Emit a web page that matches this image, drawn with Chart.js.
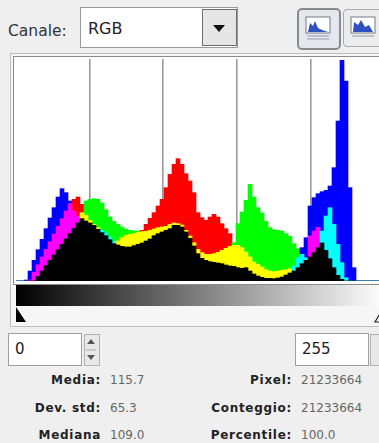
<!DOCTYPE html>
<html><head><meta charset="utf-8">
<script src="https://cdn.jsdelivr.net/npm/chart.js@4/dist/chart.umd.min.js"></script>
<style>
html,body{margin:0;padding:0}
body{width:379px;height:443px;overflow:hidden;background:#efefef;position:relative;font-family:"DejaVu Sans",sans-serif}
.a{position:absolute}
.lbl{font-weight:bold;font-size:12px;letter-spacing:0.7px;color:#222;text-align:right;white-space:nowrap}
.val{font-size:12px;color:#666;white-space:nowrap}
</style></head><body>

<!-- top bar -->
<div class="a" style="left:8px;top:22px;font-size:15.5px;color:#333">Canale:</div>
<div class="a" style="left:80px;top:7px;width:156px;height:39px;border:1px solid #9a9a9a;background:#fff"></div>
<div class="a" style="left:88px;top:19px;font-size:16px;color:#222">RGB</div>
<div class="a" style="left:202px;top:9px;width:33px;height:35px;border:1px solid #6e6e6e;background:#e6e6e6"></div>
<svg class="a" style="left:212px;top:24px" width="14" height="9"><polygon points="1,1 13,1 7,8" fill="#111"/></svg>
<div class="a" style="left:297px;top:8px;width:40px;height:38px;border:2px solid #8a8a8a;border-radius:5px;background:#e4e8ee"></div>
<svg class="a" style="left:305px;top:16px" width="26" height="24"><rect x="1" y="1" width="24" height="16" fill="#fff" stroke="#778" /><polygon points="3,16 5,7 8,10 10,5 13,12 17,14 23,16" fill="#3050c0"/><line x1="2" y1="20" x2="24" y2="20" stroke="#99a"/><line x1="2" y1="23" x2="24" y2="23" stroke="#99a"/></svg>
<div class="a" style="left:343px;top:9px;width:40px;height:36px;border:1px solid #aaa;border-radius:4px;background:#ececec"></div>
<svg class="a" style="left:350px;top:16px" width="26" height="24"><rect x="1" y="1" width="24" height="16" fill="#fff" stroke="#778" /><polygon points="3,16 4,6 8,9 11,4 15,11 19,9 23,16" fill="#3050c0"/><line x1="2" y1="20" x2="24" y2="20" stroke="#99a"/></svg>

<!-- histogram frame -->
<div class="a" style="left:10px;top:53px;width:400px;height:272px;border:1px solid #bdbdbd;background:#f6f6f6"></div>
<div class="a" style="left:13px;top:56px;width:400px;height:227px;border:1px solid #8c8c8c;background:#fff"></div>
<div class="a" style="left:16px;top:59px;width:368px;height:222px"><canvas id="c" width="368" height="222"></canvas></div>
<div class="a" style="left:16px;top:285px;width:368px;height:21px;background:linear-gradient(to right,#000,#fff)"></div>
<svg class="a" style="left:0;top:305px" width="379" height="20"><polygon points="16,2 16,17 26,17" fill="#000"/><polygon points="384,2 375,17 393,17" fill="#fff" stroke="#222" stroke-width="1.2"/></svg>

<!-- inputs -->
<div class="a" style="left:8px;top:333px;width:72px;height:31px;border:1px solid #a0a0a0;background:#fff"></div>
<div class="a" style="left:15px;top:340px;font-size:15px;color:#222">0</div>
<div class="a" style="left:84px;top:334px;width:14px;height:30px;border:1px solid #b0b0b0;background:#e8e8e8"></div>
<svg class="a" style="left:86px;top:337px" width="10" height="26"><polygon points="5,2 1,7 9,7" fill="#555"/><line x1="0" y1="13" x2="10" y2="13" stroke="#aaa"/><polygon points="1,18 9,18 5,23" fill="#555"/></svg>
<div class="a" style="left:295px;top:333px;width:72px;height:31px;border:1px solid #a0a0a0;background:#fff"></div>
<div class="a" style="left:302px;top:340px;font-size:15px;color:#222">255</div>
<div class="a" style="left:370px;top:334px;width:14px;height:30px;border:1px solid #b0b0b0;background:#e8e8e8"></div>

<!-- statistics -->
<div class="a lbl" style="right:278px;top:373px">Media:</div>
<div class="a val" style="left:110px;top:373px">115.7</div>
<div class="a lbl" style="right:278px;top:401px">Dev. std:</div>
<div class="a val" style="left:110px;top:401px">65.3</div>
<div class="a lbl" style="right:278px;top:428px">Mediana</div>
<div class="a val" style="left:110px;top:428px">109.0</div>
<div class="a lbl" style="right:87px;top:373px">Pixel:</div>
<div class="a val" style="left:301px;top:373px">21233664</div>
<div class="a lbl" style="right:87px;top:401px">Conteggio:</div>
<div class="a val" style="left:301px;top:401px">21233664</div>
<div class="a lbl" style="right:87px;top:428px">Percentile:</div>
<div class="a val" style="left:301px;top:428px">100.0</div>

<script>
// channel histograms, 92 bins across intensity 0..255 (arbitrary count units)
const red = [0,0,0,3,26,49,72,95,118,141,164,187,210,232,245,252,230,197,182,170,160,145,136,124,112,120,130,137,140,142,146,152,170,188,205,225,245,280,320,350,367,350,322,300,265,205,190,182,192,200,192,172,157,142,107,107,100,87,72,57,50,42,34,30,28,30,32,34,37,30,40,52,62,135,150,161,114,92,67,40,17,5,0,0,0,0,0,0,0,0,0,0];
const green = [0,0,0,0,0,14,30,46,62,78,94,110,126,142,158,174,205,240,245,247,245,234,214,192,179,170,162,156,152,150,150,148,149,152,156,160,162,164,170,174,172,168,152,135,115,95,85,80,80,82,86,92,98,104,115,172,207,242,290,252,220,204,179,160,154,152,150,142,134,112,97,80,70,72,85,100,150,195,220,170,110,55,10,0,0,0,0,0,0,0,0,0];
const blue = [0,0,3,30,62,94,125,157,189,220,252,277,265,240,210,195,187,180,174,167,155,152,144,132,120,108,104,102,102,106,110,114,120,126,136,142,147,152,157,167,167,162,147,128,105,82,68,62,58,56,54,52,48,45,44,40,38,40,30,21,15,11,8,8,7,9,12,18,24,45,70,100,130,225,250,262,268,272,285,340,480,662,600,280,40,0,0,0,0,0,0,0];
const binLabels = red.map((_, i) => String(i));
const gridStops = [0, 1, 2, 3, 4, 5];   // grid divides the range into fifths

const singleCol = {r:'#ff0000', g:'#00ff00', b:'#0000ff'};
const pairCol = {gr:'#ffff00', br:'#ff00ff', bg:'#00ffff'};
const layerMin = [], layerMid = [], layerMax = [], midColors = [], maxColors = [];
for (let i = 0; i < red.length; i++) {
  const v = [['r', red[i]], ['g', green[i]], ['b', blue[i]]].sort((a, b) => a[1] - b[1]);
  layerMin.push(v[0][1]);
  layerMid.push(v[1][1] - v[0][1]);
  layerMax.push(v[2][1] - v[1][1]);
  midColors.push(pairCol[[v[1][0], v[2][0]].sort().join('')]);
  maxColors.push(singleCol[v[2][0]]);
}

const common = {borderWidth:0, barPercentage:1, categoryPercentage:1, xAxisID:'x', yAxisID:'y'};
new Chart(document.getElementById('c'), {
  type: 'bar',
  data: {
    labels: binLabels,
    datasets: [
      Object.assign({label:'min', data: layerMin, backgroundColor:'#000000'}, common),
      Object.assign({label:'mid', data: layerMid, backgroundColor: midColors}, common),
      Object.assign({label:'max', data: layerMax, backgroundColor: maxColors}, common)
    ]
  },
  options: {
    responsive: false,
    animation: false,
    devicePixelRatio: 1,
    layout: {padding: 0},
    plugins: {legend: {display:false}, tooltip: {enabled:false}},
    scales: {
      x: {type:'category', stacked:true, display:false},
      y: {stacked:true, display:false, min:0, max:666},
      xg: {
        type:'linear', axis:'x', position:'bottom', offset:false,
        min: gridStops[0], max: gridStops[gridStops.length-1], bounds:'data', grace:0,
        afterFit: s => { s.height = 0; },
        ticks: {display:false, stepSize:1, includeBounds:true},
        border: {display:false},
        grid: {offset:false, drawTicks:false, tickLength:0, lineWidth:1.6,
               color: c => (c.tick && c.tick.value > gridStops[0] && c.tick.value < gridStops[gridStops.length-1]) ? '#9a9a9a' : 'rgba(0,0,0,0)'}
      }
    }
  }
});
</script>
</body></html>
